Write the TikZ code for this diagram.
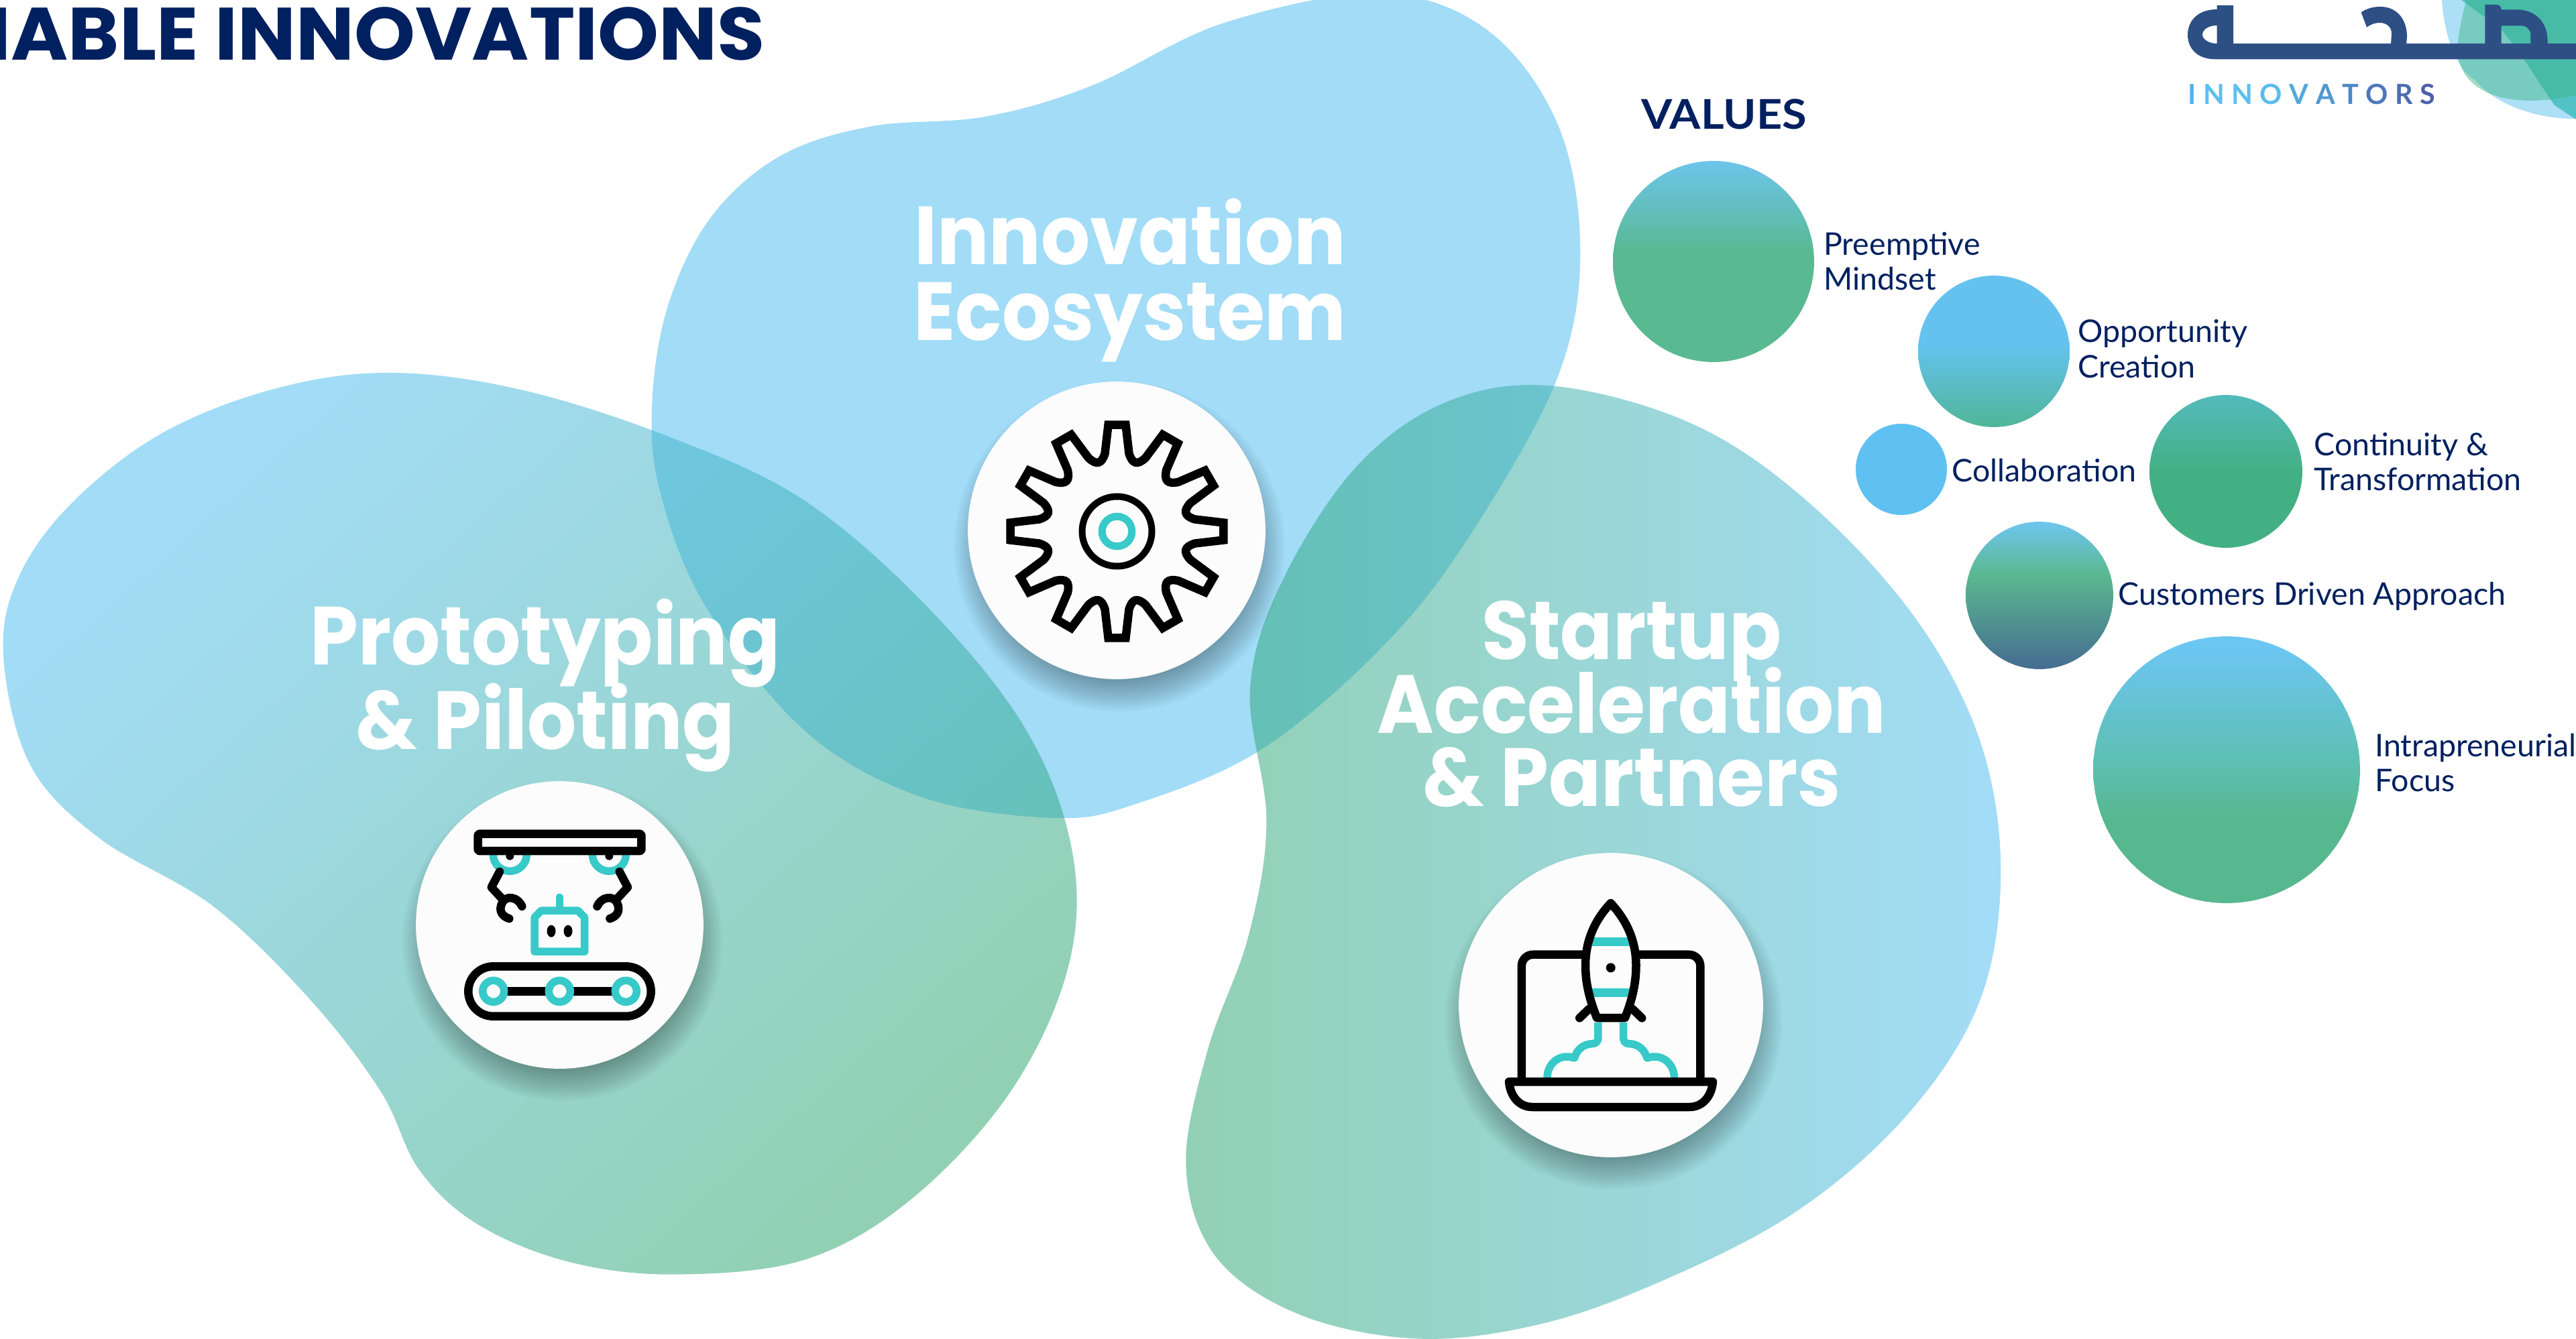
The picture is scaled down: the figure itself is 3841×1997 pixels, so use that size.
\documentclass[tikz,border=0pt]{standalone}
\usepackage{fontspec}
\setmainfont{Lato}
\newfontfamily\bigf{Poppins}
\setlength{\normallineskiplimit}{-100pt}
\setlength{\lineskiplimit}{-100pt}
\usetikzlibrary{calc}
\definecolor{navy}{HTML}{00205F}
\definecolor{logoblue}{HTML}{2E4F84}
\definecolor{teal}{HTML}{38C9C9}
\definecolor{disc}{HTML}{FCFCFC}
\definecolor{blobblue}{HTML}{47BBF1}
\definecolor{blobgreen}{HTML}{27A36B}
\definecolor{a1}{HTML}{6CC5EC}\definecolor{a2}{HTML}{59B990}
\definecolor{b1}{HTML}{65C2EE}\definecolor{b2}{HTML}{4FB698}
\definecolor{c1}{HTML}{5FC0F2}
\definecolor{d1}{HTML}{54BABD}\definecolor{d2}{HTML}{43B083}
\definecolor{e1}{HTML}{6EC6F0}\definecolor{e2}{HTML}{5AB88F}\definecolor{e3}{HTML}{456C90}
\definecolor{f1}{HTML}{6CC6F2}\definecolor{f2}{HTML}{5CBFAE}\definecolor{f3}{HTML}{57B78E}
\pgfdeclareverticalshading{vA}{100bp}{color(0bp)=(a2);color(25bp)=(a2);color(52bp)=(a2);color(75bp)=(a1);color(100bp)=(a1)}
\pgfdeclareverticalshading{vB}{100bp}{color(0bp)=(b2);color(25bp)=(b2);color(52bp)=(b1);color(75bp)=(b1);color(100bp)=(b1)}
\pgfdeclareverticalshading{vD}{100bp}{color(0bp)=(d2);color(25bp)=(d2);color(50bp)=(d2);color(75bp)=(d1);color(100bp)=(d1)}
\pgfdeclareverticalshading{vE}{100bp}{color(0bp)=(e3);color(25bp)=(e3);color(57bp)=(e2);color(75bp)=(e1);color(100bp)=(e1)}
\pgfdeclareverticalshading{vF}{100bp}{color(0bp)=(f3);color(25bp)=(f3);color(40bp)=(f3);color(50bp)=(f2);color(73bp)=(f1);color(100bp)=(f1)}
\tikzset{
  bluegreen/.style={shade,top color=blobblue,bottom color=blobgreen,fill opacity=0.5},
  valuedot/.style={circle,inner sep=0pt,minimum size=#1*0.04cm},
  valuetext/.style={inner sep=0pt,anchor=west,align=left,text=navy,font=\fontsize{26.5}{30}\selectfont},
  bigtext/.style={inner sep=0pt,align=center,text=white,font=\bigf\bfseries\fontsize{70}{#1}\selectfont\addfontfeature{FakeStretch=0.935}},
  blackline/.style={draw=black,line width=0.25cm,line join=round,line cap=round},
  tealline/.style={draw=teal,line width=0.23cm,line join=round,line cap=round},
  whitedisc/.style={circle,inner sep=0pt,fill=disc,minimum size=#1*0.04cm},
}
\newcommand{\softshadow}[3]{%
  \foreach \d in {-28,-24,...,24}{%
    \fill[black,fill opacity=0.027] (#1+4,#2+24) circle ({#3+\d});}%
}
\newcommand{\lgl}[2]{\textcolor[HTML]{#1}{#2}\kern6pt}
\begin{document}
\begin{tikzpicture}[x=0.02cm,y=-0.02cm]
\useasboundingbox (0,0) rectangle (3841,1997);
\clip (0,0) rectangle (3841,1997);
\fill[white] (0,0) rectangle (3841,1997);
% blobs
\begin{scope}[x=0.04899cm,y=-0.04899cm]
\fill[blobblue,fill opacity=0.5] plot[smooth cycle,tension=0.6] coordinates {(397,245) (407,185) (433,132) (475,95) (530,77) (600,71) (665,52) (745,14) (840,-4) (905,18) (948,75) (962,150) (950,225) (905,310) (850,385) (770,455) (690,490) (640,498) (560,485) (490,445) (430,370) (402,300)};
\path[bluegreen,shading angle=42] plot[smooth cycle,tension=0.6] coordinates {(2,398) (12,350) (45,305) (100,263) (170,236) (240,227) (320,238) (410,267) (490,305) (565,370) (625,445) (653,520) (650,590) (615,665) (555,730) (490,767) (410,776) (345,768) (290,745) (255,712) (232,665) (190,610) (130,552) (60,510) (18,465)};
\path[shade,left color=blobgreen,right color=blobblue,fill opacity=0.5] plot[smooth cycle,tension=0.6] coordinates {(945,235) (880,245) (825,285) (780,355) (761,420) (771,500) (760,570) (735,640) (722,710) (740,765) (790,800) (860,815) (930,808) (1000,785) (1090,740) (1160,680) (1205,610) (1218,530) (1205,450) (1165,375) (1100,305) (1030,258)};
\end{scope}
% logo background shapes
\fill[color={rgb,255:red,173;green,223;blue,246}] (3641,0) .. controls (3645,60) and (3665,105) .. (3691,120) .. controls (3725,160) and (3790,178) .. (3841,177) -- (3841,0) -- cycle;
\fill[color={rgb,255:red,82;green,194;blue,198}] (3670,0) -- (3729,43) .. controls (3760,80) and (3790,130) .. (3809,157) -- (3841,178) -- (3841,0) -- cycle;
\fill[color={rgb,255:red,60;green,181;blue,132},fill opacity=0.47] (3677,0) .. controls (3668,40) and (3660,70) .. (3668,95) .. controls (3680,135) and (3735,165) .. (3841,142) -- (3841,0) -- cycle;
% logo mark
\fill[logoblue,even odd rule] (3305.6,14) .. controls (3276,14) and (3262,32) .. (3262,52) .. controls (3262,72) and (3276,88.3) .. (3303,88.3) -- (3841,88.3) -- (3841,65) -- (3330,65) -- (3330,8) -- (3305.6,8) -- cycle
  (3305.6,38) .. controls (3293,38) and (3284,44) .. (3284,52) .. controls (3284,58) and (3293,65) .. (3305.6,65) -- cycle;
\fill[logoblue] (3520.6,18.3) .. controls (3530,12) and (3540,10) .. (3549,10) .. controls (3575,10) and (3589,30) .. (3589,55) -- (3588,66) -- (3565,66) -- (3566,50) .. controls (3566,40) and (3558,34) .. (3549,34) .. controls (3540,34) and (3534,37) .. (3529,40.7) -- cycle;
\fill[logoblue] (3705.4,66) -- (3705.4,7) -- (3722,7) .. controls (3727,7) and (3729.5,10) .. (3729.5,14.3) -- (3752,14.3) .. controls (3782,14.3) and (3798.5,35) .. (3798.5,60) -- (3798.5,66) -- (3773.4,66) -- (3773.4,52) .. controls (3773.4,44) and (3767,38.3) .. (3759,38.3) -- (3729.5,38.3) -- (3729.5,66) -- cycle;
\node (logotext) [inner sep=0pt,anchor=base west,font=\bfseries\fontsize{23.5}{28}\selectfont] at (3262,156) {\lgl{52B3E6}{I}\lgl{5BC0F0}{N}\lgl{5BC0F0}{N}\lgl{5ABCEC}{O}\lgl{52A8DE}{V}\lgl{5098D2}{A}\lgl{5088C5}{T}\lgl{4F78BB}{O}\lgl{4E6CB2}{R}\textcolor[HTML]{4E60AC}{S}};
% title
\node (title) [inner sep=0pt,anchor=base east,text=navy,font=\bigf\bfseries\fontsize{63}{70}\selectfont\addfontfeature{FakeStretch=1.045}] at (1141,90) {NABLE INNOVATIONS};
\node (values) [inner sep=0pt,anchor=base west,text=navy,font=\bfseries\fontsize{34.8}{40}\selectfont\addfontfeature{FakeStretch=1.09}] at (2447,192.5) {VALUES};
% value circles
\node (v1) [valuedot=150,shading=vA] at (2555,390) {};
\node (v2) [valuedot=113,shading=vB] at (2973,524) {};
\node (v3) [valuedot=68,fill=c1] at (2835,700) {};
\node (v4) [valuedot=114,shading=vD] at (3319,703) {};
\node (v5) [valuedot=110,shading=vE] at (3041,888) {};
\node (v6) [valuedot=199,shading=vF] at (3320,1148) {};
\node (t1) [valuetext] at (2719,389.5) {Preemptive\\Mindset};
\node (t2) [valuetext] at (3098,520.5) {Opportunity\\Creation};
\node (t3) [valuetext] at (2910,702) {Collaboration};
\node (t4) [valuetext] at (3450,688.5) {Continuity \&\\Transformation};
\node (t5) [valuetext] at (3158,889) {Customers Driven Approach};
\node (t6) [valuetext] at (3541,1137.5) {Intrapreneurial\\Focus};
% big labels
\node (innov) [bigtext=64] at (1685,418) {Innovation\\Ecosystem};
\node (proto) [bigtext=72] at (813,1022) {Prototyping\\\& Piloting};
\node (start) [bigtext=62.4] at (2433,1050) {Startup\\Acceleration\\\& Partners};
% gear disc
\softshadow{1665}{791}{222}
\node (gearDisc) [whitedisc=222] at (1665,791) {};
\begin{scope}[shift={(1665.5,792.5)}]
\draw[blackline,line join=miter] (4.67:159.5)
  \foreach \a in {0,-30,...,-330}{
    -- ({\a-4.67}:159.5) -- ({\a-8.82}:117.4)
    .. controls ({\a-13}:103) and ({\a-17}:103) .. ({\a-21.18}:117.4)
    -- ({\a-25.33}:159.5)
  } -- cycle;
\draw[black,line width=0.2cm] (0,0) circle (52);
\draw[teal,line width=0.22cm] (0,0) circle (22.3);
\end{scope}
% robot disc
\softshadow{834.5}{1379.5}{214.5}
\node (robotDisc) [whitedisc=214.5] at (834.5,1379.5) {};
\foreach \cx in {760.3,908.3}{
  \draw[tealline,fill=disc] (\cx,1274.3) circle (25);
  \fill[black] (\cx,1276.7) circle (6);
}
\draw[blackline,fill=disc,rounded corners=1pt] (712.7,1243.7) rectangle (956.3,1269);
\draw[blackline] (745,1300) -- (732.7,1323.3) -- (748.3,1340);
\draw[blackline] (759.3,1370) .. controls (750,1367) and (744,1360) .. (747.3,1350) .. controls (750,1341) and (757,1338) .. (763.3,1339.3) .. controls (770,1340) and (776,1346) .. (778.3,1351.7);
\draw[blackline] (923.7,1300) -- (936,1323.3) -- (920.4,1340);
\draw[blackline] (909.4,1370) .. controls (918.7,1367) and (924.7,1360) .. (921.4,1350) .. controls (918.7,1341) and (911.7,1338) .. (905.4,1339.3) .. controls (898.7,1340) and (892.7,1346) .. (890.4,1351.7);
\draw[tealline] (834.3,1338.3) -- (834.3,1358);
\draw[tealline] (797,1419) -- (871.7,1419) -- (871.7,1368.3) -- (861.7,1358) -- (807,1358) -- (797,1368.3) -- cycle;
\fill[black] (822,1388.7) ellipse (6.5 and 9);
\fill[black] (847,1388.7) ellipse (6.5 and 9);
\draw[blackline,rounded corners=0.744cm] (698.3,1441.3) rectangle (970.7,1515.7);
\draw[blackline] (735.7,1478.3) -- (933.3,1478.3);
\foreach \cx in {735.7,834.3,933.3}{\draw[tealline,fill=disc] (\cx,1478.3) circle (16);}
% rocket disc
\softshadow{2402}{1499}{227}
\node (rocketDisc) [whitedisc=227] at (2402,1499) {};
\draw[blackline,rounded corners=0.34cm] (2268.8,1613) -- (2268.8,1423.7) -- (2535.3,1423.7) -- (2535.3,1613);
\draw[tealline,line cap=butt] (2382.8,1525) -- (2382.8,1548) .. controls (2382.8,1553) and (2380,1556.7) .. (2374,1556.7) .. controls (2362,1556.7) and (2351,1565) .. (2347.5,1578) .. controls (2325,1570) and (2307,1587) .. (2307,1607);
\draw[tealline,line cap=butt] (2420.6,1525) -- (2420.6,1548) .. controls (2420.6,1553) and (2423.4,1556.7) .. (2429.4,1556.7) .. controls (2441.4,1556.7) and (2452.4,1565) .. (2455.9,1578) .. controls (2478.4,1570) and (2496.4,1587) .. (2496.4,1607);
\draw[blackline,fill=disc] (2250,1613.3) .. controls (2252,1635) and (2265,1651) .. (2285,1651) -- (2519,1651) .. controls (2539,1651) and (2552,1635) .. (2554,1613.3) -- cycle;
\draw[blackline] (2355.2,1518.3) -- (2369,1505);
\draw[blackline] (2448.2,1518.3) -- (2434.4,1505);
\fill[disc] (2401.7,1347) .. controls (2380,1370) and (2364,1400) .. (2364,1440) .. controls (2364,1470) and (2372,1495) .. (2381,1518) -- (2423,1518) .. controls (2432,1495) and (2439.5,1470) .. (2439.5,1440) .. controls (2439.5,1400) and (2423,1370) .. (2401.7,1347) -- cycle;
\draw[teal,line width=0.25cm] (2374,1404.7) -- (2430,1404.7);
\draw[teal,line width=0.25cm] (2372,1480.7) -- (2432,1480.7);
\draw[blackline] (2401.7,1347) .. controls (2380,1370) and (2364,1400) .. (2364,1440) .. controls (2364,1470) and (2372,1495) .. (2381,1518) -- (2423,1518) .. controls (2432,1495) and (2439.5,1470) .. (2439.5,1440) .. controls (2439.5,1400) and (2423,1370) .. (2401.7,1347) -- cycle;
\fill[black] (2401.7,1443.3) circle (7);
\end{tikzpicture}
\end{document}
